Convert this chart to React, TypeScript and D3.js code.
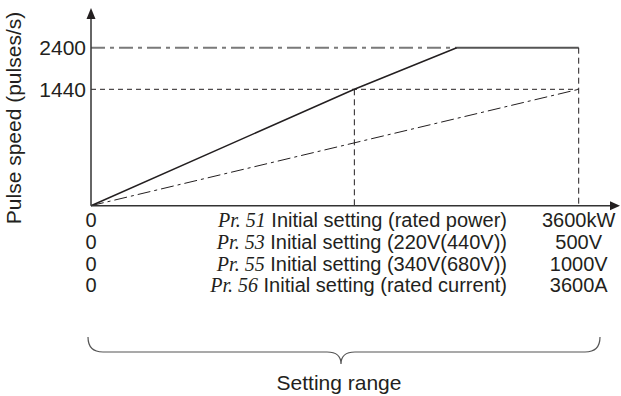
import React from "react";
import * as d3 from "d3";

// ---- data ----
const yTicks = [2400, 1440];
const yKnots = [0, 1440, 2400]; // schematic (non-proportional) y axis
const solidX = [0, 0.54, 0.75];
const solidY = [0, 1440, 2400];
const dashDotX = [0, 1];
const dashDotY = [0, 1440];
const limitX = [0, 0.75, 1];
const limitY = 2400;
const cross1440X = 0.54;
const rowParams = ["51", "53", "55", "56"];
const rowLabels = [
  " Initial setting (rated power)",
  " Initial setting (220V(440V))",
  " Initial setting (340V(680V))",
  " Initial setting (rated current)",
];
const rowMin = ["0", "0", "0", "0"];
const rowMax = ["3600kW", "500V", "1000V", "3600A"];
const yTitle = "Pulse speed (pulses/s)";
const braceTitle = "Setting range";

const W = 621;
const H = 396;
const SANS = "'Liberation Sans', Arial, sans-serif";
const SERIF = "'Liberation Serif', 'Times New Roman', serif";
const FS = 21;
const ROW_FS = 20;
const INK = "#231f20";

export default function App() {
  const x = d3.scaleLinear().domain([0, 1]).range([91, 578.7]);
  const y = d3.scaleLinear().domain(yKnots).range([205.7, 89.3, 47.7]);
  const line = d3
    .line<[number, number]>()
    .x((d) => x(d[0]))
    .y((d) => y(d[1]));

  const solidPts = solidX.map((v, i) => [v, solidY[i]] as [number, number]);
  const ddPts = dashDotX.map((v, i) => [v, dashDotY[i]] as [number, number]);

  const x0 = x(0);
  const y0 = y(0);
  const axisRight = 620;
  const axisTop = 8;

  const rowBase = (i: number) => 227 + i * 21.8;
  const midEnd = 507;

  const bl = 88;
  const br = 600;
  const bm = 341;
  const bTop = 337;
  const bH = 352;
  const bTip = 364;
  const brace = `M${bl},${bTop} Q${bl},${bH} ${bl + 15},${bH} H${bm - 14} C${bm - 4},${bH} ${bm},${bH + 4} ${bm},${bTip} C${bm},${bH + 4} ${bm + 4},${bH} ${bm + 14},${bH} H${br - 15} Q${br},${bH} ${br},${bTop}`;

  return (
    <svg
      width={W}
      height={H}
      viewBox={`0 0 ${W} ${H}`}
      style={{ position: "absolute", left: 0, top: 0, background: "#fff" }}
    >
      {/* guide lines */}
      <path
        d={`M${x(limitX[0])},${y(limitY)} H${x(limitX[1])}`}
        stroke="#7a7a7a"
        strokeWidth={2}
        strokeDasharray="14 5 4 5"
        fill="none"
      />
      <path
        d={`M${x(limitX[1])},${y(limitY)} H${x(limitX[2])}`}
        stroke="#555"
        strokeWidth={2}
        fill="none"
      />
      <path
        d={`M${x0},${y(1440)} H${x(1)}`}
        stroke={INK}
        strokeWidth={1}
        strokeDasharray="5 4"
        fill="none"
      />
      <path
        d={`M${x(cross1440X)},${y(1440)} V${y0}`}
        stroke={INK}
        strokeWidth={1}
        strokeDasharray="6 4"
        fill="none"
      />
      <path
        d={`M${x(1)},${y(limitY)} V${y0}`}
        stroke={INK}
        strokeWidth={1}
        strokeDasharray="6 4"
        fill="none"
      />
      {/* series */}
      <path d={line(ddPts) || ""} stroke={INK} strokeWidth={1} strokeDasharray="13 4 3 4" fill="none" />
      <path d={line(solidPts) || ""} stroke={INK} strokeWidth={1.5} fill="none" />

      {/* axes */}
      <path d={`M${x0},${y0} V${axisTop + 10}`} stroke="#333" strokeWidth={1.5} />
      <path d={`M${x0 - 4.5},${axisTop + 11} L${x0},${axisTop} L${x0 + 4.5},${axisTop + 11} Z`} fill={INK} />
      <path d={`M${x0},${y0} H${axisRight - 9}`} stroke="#333" strokeWidth={1.5} />
      <path d={`M${axisRight - 10},${y0 - 4.5} L${axisRight},${y0} L${axisRight - 10},${y0 + 4.5} Z`} fill={INK} />

      {/* y tick labels */}
      {yTicks.map((t) => (
        <text
          key={t}
          x={86}
          y={y(t) + 7.5}
          textAnchor="end"
          fontFamily={SANS}
          fontSize={FS}
          fill={INK}
        >
          {t}
        </text>
      ))}

      {/* y title */}
      <text
        transform={`translate(21,118) rotate(-90)`}
        textAnchor="middle"
        fontFamily={SANS}
        fontSize={FS}
        fill={INK}
      >
        {yTitle}
      </text>

      {/* rows */}
      {rowParams.map((p, i) => (
        <g key={p}>
          <text
            x={x(0)}
            y={rowBase(i)}
            textAnchor="middle"
            fontFamily={SANS}
            fontSize={ROW_FS}
            fill={INK}
          >
            {rowMin[i]}
          </text>
          <text
            x={midEnd}
            y={rowBase(i)}
            textAnchor="end"
            fontFamily={SANS}
            fontSize={ROW_FS}
            fill={INK}
          >
            <tspan fontFamily={SERIF} fontStyle="italic">{`Pr. ${p}`}</tspan>
            <tspan>{rowLabels[i]}</tspan>
          </text>
          <text
            x={x(1)}
            y={rowBase(i)}
            textAnchor="middle"
            fontFamily={SANS}
            fontSize={ROW_FS}
            fill={INK}
          >
            {rowMax[i]}
          </text>
        </g>
      ))}

      {/* brace */}
      <path d={brace} stroke="#555" strokeWidth={1.2} fill="none" />
      <text
        x={bm - 2}
        y={390}
        textAnchor="middle"
        fontFamily={SANS}
        fontSize={FS}
        fill={INK}
      >
        {braceTitle}
      </text>
    </svg>
  );
}
